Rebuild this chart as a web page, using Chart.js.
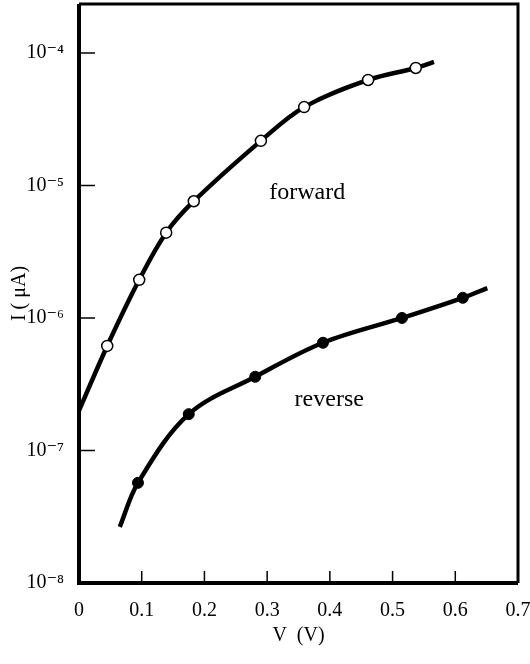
<!DOCTYPE html>
<html>
<head>
<meta charset="utf-8">
<script src="https://cdn.jsdelivr.net/npm/chart.js@4/dist/chart.umd.min.js"></script>
<style>
  body { margin: 0; background: #fff; }
  #wrap { width: 530px; height: 664px; }
</style>
</head>
<body>
<div id="wrap"><canvas id="ivChart"></canvas></div>
<script>
// forward bias curve (V, µA)
const forwardV = [0, 0.045, 0.096, 0.139, 0.183, 0.290, 0.359, 0.461, 0.537, 0.566];
const forwardI = [2.0e-7, 6.15e-7, 1.94e-6, 4.4e-6, 7.6e-6, 2.17e-5, 3.9e-5, 6.25e-5, 7.7e-5, 8.55e-5];
const forwardMarked = [false, true, true, true, true, true, true, true, true, false];

// reverse bias curve
const reverseV = [0.065, 0.094, 0.175, 0.281, 0.389, 0.515, 0.612, 0.651];
const reverseI = [2.65e-8, 5.7e-8, 1.88e-7, 3.6e-7, 6.5e-7, 1.0e-6, 1.42e-6, 1.68e-6];
const reverseMarked = [false, true, true, true, true, true, true, false];

const xTicks = [0, 0.1, 0.2, 0.3, 0.4, 0.5, 0.6, 0.7];
const yExponents = [-8, -7, -6, -5, -4];

const sup = { '-': '\u207B', '4': '\u2074', '5': '\u2075', '6': '\u2076', '7': '\u2077', '8': '\u2078' };
function powLabel(e) {
    return '10' + String(e).split('').map(c => sup[c]).join('');
}

function toPoints(xs, ys) {
    return xs.map((x, i) => ({ x: x, y: ys[i] }));
}

const serif = '"Liberation Serif", "DejaVu Serif", serif';

// frame, inward tick marks and the two curve labels
const framePlugin = {
    id: 'frame',
    afterDraw(chart) {
        const ctx = chart.ctx;
        const a = chart.chartArea;
        const xs = chart.scales.x, ys = chart.scales.y;
        ctx.save();
        ctx.strokeStyle = '#000';
        ctx.lineWidth = 1.5;
        ctx.beginPath();
        xTicks.slice(1, -1).forEach(v => {
            const px = xs.getPixelForValue(v);
            ctx.moveTo(px, a.bottom);
            ctx.lineTo(px, a.bottom - 12);
        });
        yExponents.slice(1).forEach(e => {
            const py = ys.getPixelForValue(Math.pow(10, e));
            ctx.moveTo(a.left, py);
            ctx.lineTo(a.left + 16, py);
        });
        ctx.stroke();

        ctx.lineWidth = 4;
        ctx.beginPath();
        ctx.moveTo(a.left, a.top);
        ctx.lineTo(a.left, a.bottom);
        ctx.lineTo(a.right, a.bottom);
        ctx.stroke();
        ctx.lineWidth = 3;
        ctx.beginPath();
        ctx.moveTo(a.left, a.top);
        ctx.lineTo(a.right, a.top);
        ctx.lineTo(a.right, a.bottom);
        ctx.stroke();

        ctx.fillStyle = '#000';
        ctx.font = '24px ' + serif;
        ctx.textAlign = 'center';
        ctx.textBaseline = 'middle';
        ctx.fillText('forward', xs.getPixelForValue(0.364), ys.getPixelForValue(8.8e-6));
        ctx.fillText('reverse', xs.getPixelForValue(0.399), ys.getPixelForValue(2.4e-7));
        ctx.restore();
    }
};

const ctx = document.getElementById('ivChart').getContext('2d');
new Chart(ctx, {
    type: 'line',
    data: {
        datasets: [
            {
                label: 'forward',
                data: toPoints(forwardV, forwardI),
                borderColor: '#000',
                borderWidth: 4.5,
                tension: 0.35,
                pointRadius: forwardMarked.map(m => m ? 5.5 : 0),
                pointBackgroundColor: '#fff',
                pointBorderColor: '#000',
                pointBorderWidth: 1.5
            },
            {
                label: 'reverse',
                data: toPoints(reverseV, reverseI),
                borderColor: '#000',
                borderWidth: 4.5,
                tension: 0.35,
                pointRadius: reverseMarked.map(m => m ? 5.5 : 0),
                pointBackgroundColor: '#000',
                pointBorderColor: '#000',
                pointBorderWidth: 1
            }
        ]
    },
    options: {
        responsive: true,
        maintainAspectRatio: false,
        animation: false,
        layout: { padding: { top: 4, right: 12, left: 0, bottom: 0 } },
        plugins: {
            legend: { display: false },
            tooltip: { enabled: false }
        },
        scales: {
            x: {
                type: 'linear',
                min: 0,
                max: 0.7,
                grid: { display: false },
                border: { display: false },
                afterBuildTicks: s => { s.ticks = xTicks.map(v => ({ value: v })); },
                afterFit: s => { s.height = 81; s.paddingLeft = 0; s.paddingRight = 0; },
                ticks: {
                    color: '#000',
                    font: { family: serif, size: 20 },
                    padding: 8,
                    maxRotation: 0,
                    callback: v => v === 0 ? '0' : v.toFixed(1)
                },
                title: {
                    display: true,
                    text: 'V  (V)',
                    color: '#000',
                    font: { family: serif, size: 20 },
                    padding: { top: 0, bottom: 16 }
                }
            },
            y: {
                type: 'logarithmic',
                min: 1e-8,
                max: 2.34e-4,
                grid: { display: false },
                border: { display: false },
                afterBuildTicks: s => { s.ticks = yExponents.map(e => ({ value: Math.pow(10, e) })); },
                afterFit: s => { s.width = 79; s.paddingTop = 0; s.paddingBottom = 0; },
                ticks: {
                    color: '#000',
                    font: { family: serif, size: 20 },
                    padding: 7,
                    callback: v => powLabel(Math.round(Math.log10(v)))
                },
                title: {
                    display: true,
                    text: 'I ( \u03BCA)',
                    color: '#000',
                    font: { family: serif, size: 20 },
                    padding: { top: 8, bottom: 0 }
                }
            }
        }
    },
    plugins: [framePlugin]
});
</script>
</body>
</html>
